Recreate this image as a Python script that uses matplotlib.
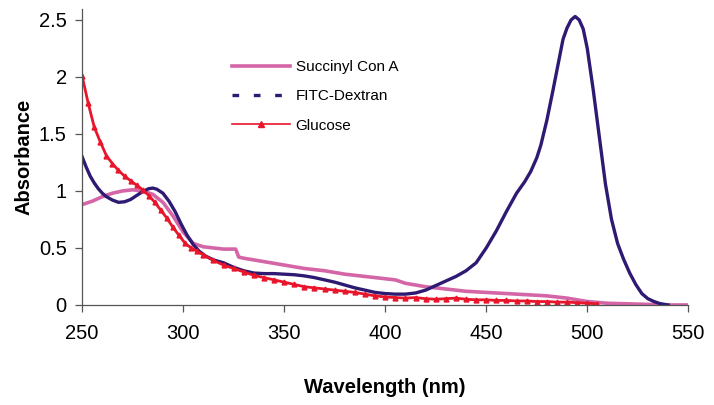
import matplotlib
matplotlib.use("Agg")
import matplotlib.pyplot as plt
from matplotlib.lines import Line2D

plt.rcParams['font.family'] = ['Liberation Sans', 'DejaVu Sans']

# Succinyl Con A
wl_con = [250, 255, 260, 265, 270, 275, 280, 285, 290, 295, 300, 305, 310, 315, 320, 326,
          327.5, 330, 340, 350, 360, 370, 380, 390, 400, 405, 410, 420, 430, 440, 450, 460,
          470, 480, 490, 500, 510, 520, 530, 540, 550]
abs_con = [0.88, 0.91, 0.95, 0.98, 1.00, 1.01, 1.00, 0.97, 0.90, 0.78, 0.64, 0.54, 0.51, 0.50, 0.49, 0.49,
           0.42, 0.41, 0.38, 0.35, 0.32, 0.30, 0.27, 0.25, 0.23, 0.22, 0.19, 0.16, 0.14, 0.12, 0.11, 0.10,
           0.09, 0.08, 0.06, 0.03, 0.015, 0.01, 0.005, 0.0, 0.0]

# FITC-Dextran
wl_fitc = [250, 252, 254, 256, 258, 260, 262, 265, 268, 271, 274, 277, 280, 283, 285, 287, 290,
           293, 296, 299, 302, 305, 308, 311, 315, 320, 325, 330, 335, 340, 345, 350, 355, 360,
           365, 370, 375, 380, 385, 390, 395, 400, 405, 410, 415, 420, 425, 430, 435, 440, 445,
           450, 455, 460, 465, 469, 472, 475, 477, 480, 483, 486, 488, 490, 492, 494, 496, 498,
           500, 503, 506, 509, 512, 515, 518, 521, 524, 527, 530, 533, 536, 540]
abs_fitc = [1.30, 1.21, 1.13, 1.07, 1.02, 0.98, 0.95, 0.92, 0.90, 0.905, 0.925, 0.96, 0.995, 1.02, 1.025, 1.015, 0.98,
            0.91, 0.82, 0.71, 0.61, 0.53, 0.47, 0.43, 0.395, 0.37, 0.33, 0.30, 0.28, 0.275, 0.275, 0.27, 0.265, 0.255,
            0.24, 0.22, 0.20, 0.175, 0.15, 0.13, 0.11, 0.10, 0.095, 0.095, 0.105, 0.13, 0.17, 0.21, 0.25, 0.30, 0.37,
            0.50, 0.65, 0.82, 0.98, 1.08, 1.17, 1.29, 1.40, 1.62, 1.88, 2.15, 2.33, 2.43, 2.50, 2.53, 2.50, 2.42,
            2.25, 1.88, 1.47, 1.06, 0.75, 0.54, 0.40, 0.28, 0.18, 0.10, 0.055, 0.03, 0.012, 0.0]

# Glucose
wl_glu = [250, 253, 256, 259, 262, 265, 268, 271, 274, 277, 280, 283, 286, 289, 292, 295, 298, 301,
          304, 307, 310, 315, 320, 325, 330, 335, 340, 345, 350, 355, 360, 365, 370, 375, 380, 385,
          390, 395, 400, 405, 410, 415, 420, 425, 430, 435, 440, 445, 450, 455, 460, 465, 470, 475,
          480, 485, 490, 495, 500, 505]
abs_glu = [2.01, 1.77, 1.56, 1.43, 1.31, 1.24, 1.18, 1.13, 1.09, 1.05, 1.01, 0.96, 0.90, 0.83, 0.76, 0.68, 0.61, 0.54,
           0.50, 0.47, 0.44, 0.39, 0.35, 0.32, 0.29, 0.26, 0.24, 0.22, 0.20, 0.18, 0.16, 0.15, 0.14, 0.13, 0.12, 0.11,
           0.095, 0.08, 0.07, 0.065, 0.06, 0.065, 0.055, 0.05, 0.055, 0.06, 0.05, 0.045, 0.045, 0.04, 0.04, 0.035,
           0.035, 0.03, 0.03, 0.025, 0.025, 0.02, 0.015, 0.01]

c_con = '#D466A8'
c_fitc = '#2E1A72'
c_glu = '#E8152B'

fig = plt.figure(figsize=(7.14, 4.05), dpi=100)
ax = fig.add_axes([0.115, 0.247, 0.849, 0.732])

ax.plot(wl_con, abs_con, color=c_con, lw=2.6, solid_capstyle='butt')
ax.plot(wl_fitc, abs_fitc, color=c_fitc, lw=2.4)
ax.plot(wl_glu, abs_glu, color=c_glu, lw=2.0, marker='^', ms=3.5, mec=c_glu, mfc=c_glu)

ax.set_xlim(250, 550)
ax.set_ylim(0, 2.6)
ax.set_xticks([250, 300, 350, 400, 450, 500, 550])
ax.set_yticks([0, 0.5, 1, 1.5, 2, 2.5])
ax.set_yticklabels(['0', '0.5', '1', '1.5', '2', '2.5'])

for s in ['top', 'right']:
    ax.spines[s].set_visible(False)
for s in ['left', 'bottom']:
    ax.spines[s].set_color('#555555')
    ax.spines[s].set_linewidth(0.9)
ax.tick_params(axis='both', direction='out', length=5, width=0.9, color='#555555',
               labelsize=14.5, pad=6)
ax.tick_params(axis='x', pad=9)

ax.set_xlabel('Wavelength (nm)', fontsize=14.5, fontweight='bold', labelpad=25)
ax.set_ylabel('Absorbance', fontsize=14.5, fontweight='bold', labelpad=4)

handles = [Line2D([], [], color=c_con, lw=2.6),
           Line2D([], [], color=c_fitc, lw=2.4, ls=(0, (2.0, 4.4)), dash_capstyle='butt'),
           Line2D([], [], color=c_glu, lw=1.2, marker='^', ms=4)]
ax.legend(handles, ['Succinyl Con A', 'FITC-Dextran', 'Glucose'], loc='upper left',
          bbox_to_anchor=(0.2475, 0.826), frameon=False, fontsize=11,
          handlelength=3.8, handletextpad=0.35, labelspacing=1.0, borderpad=0,
          borderaxespad=0, numpoints=1)

fig.savefig('out.png', dpi=100)
